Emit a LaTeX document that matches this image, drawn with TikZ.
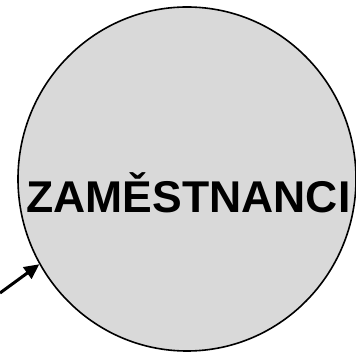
\documentclass[tikz,border=0pt]{standalone}
\usepackage{fontspec}
\setmainfont{Liberation Sans}
\usetikzlibrary{shapes.geometric,arrows.meta}
\definecolor{entitygray}{HTML}{D9D9D9}

\begin{document}
\begin{tikzpicture}[x=1pt,y=1pt]
    % Fix the page size
    \useasboundingbox (0,0) rectangle (356,353);

    % The entity as a large ellipse
    \node[ellipse, draw, line width=1.6pt, fill=entitygray,
          minimum width=338pt, minimum height=344pt, inner sep=0pt] (zam) at (187,174) {};
    \node[anchor=base, font=\bfseries\fontsize{44.5}{48}\selectfont] (zamtext) at (188.5,140) {ZAMĚSTNANCI};

    % Incoming arrow
    \coordinate (src) at (0,60);
    \draw[line width=3pt, -{Triangle[length=15pt,width=14pt]}] (src) -- (zam.210);
\end{tikzpicture}
\end{document}
